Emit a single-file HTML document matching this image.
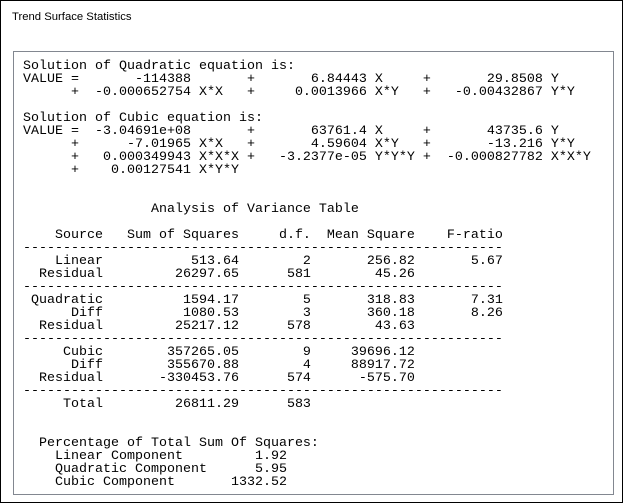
<!DOCTYPE html>
<html><head><meta charset="utf-8"><style>
html,body{margin:0;padding:0;width:623px;height:503px;overflow:hidden;background:#fff;}
#win{position:absolute;left:0;top:0;width:621px;height:501px;border:1px solid #000;background:#fff;}
#title{position:absolute;left:12px;top:11px;font-family:"Liberation Sans",sans-serif;font-size:11.3px;line-height:13px;color:#000;white-space:nowrap;}
#box{position:absolute;left:13px;top:51px;width:599px;height:442px;border:1px solid #828790;background:#fff;}
pre{position:absolute;left:23px;top:60px;margin:0;padding:0;font-family:"Liberation Mono",monospace;font-size:13.333px;line-height:13px;color:#000;}
</style></head><body>
<div id="win"></div>
<div id="title">Trend Surface Statistics</div>
<div id="box"></div>
<pre>Solution of Quadratic equation is:
VALUE =       -114388       +       6.84443 X     +       29.8508 Y
      +  -0.000652754 X*X   +     0.0013966 X*Y   +   -0.00432867 Y*Y

Solution of Cubic equation is:
VALUE =  -3.04691e+08       +       63761.4 X     +       43735.6 Y
      +      -7.01965 X*X   +       4.59604 X*Y   +       -13.216 Y*Y
      +   0.000349943 X*X*X +   -3.2377e-05 Y*Y*Y +  -0.000827782 X*X*Y
      +    0.00127541 X*Y*Y


                Analysis of Variance Table

    Source   Sum of Squares     d.f.  Mean Square    F-ratio
------------------------------------------------------------
    Linear           513.64        2       256.82       5.67
  Residual         26297.65      581        45.26
------------------------------------------------------------
 Quadratic          1594.17        5       318.83       7.31
      Diff          1080.53        3       360.18       8.26
  Residual         25217.12      578        43.63
------------------------------------------------------------
     Cubic        357265.05        9     39696.12
      Diff        355670.88        4     88917.72
  Residual       -330453.76      574      -575.70
------------------------------------------------------------
     Total         26811.29      583


  Percentage of Total Sum Of Squares:
    Linear Component         1.92
    Quadratic Component      5.95
    Cubic Component       1332.52</pre>
</body></html>
